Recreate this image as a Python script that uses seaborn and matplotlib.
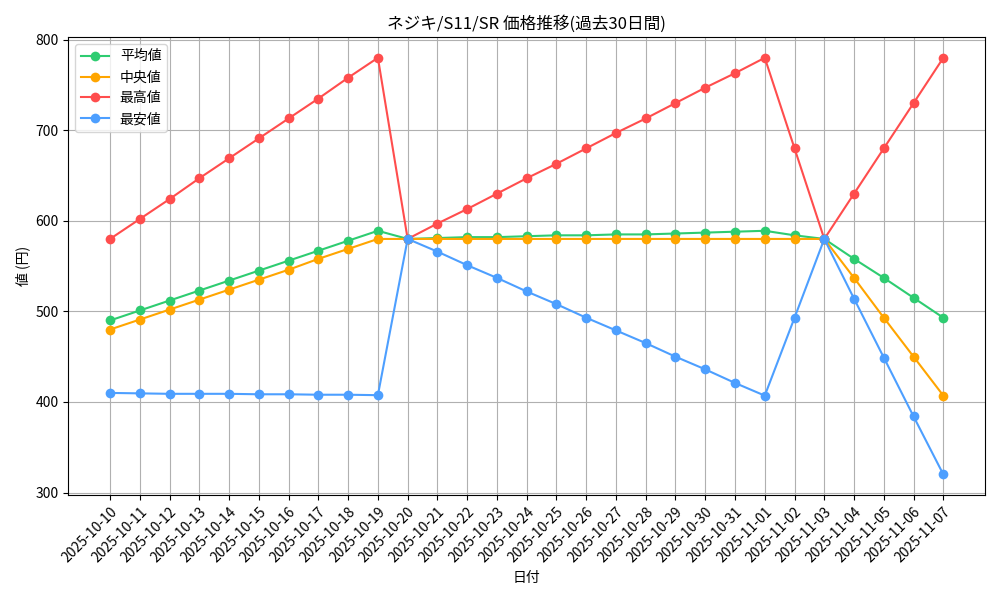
import matplotlib
matplotlib.use("Agg")
import matplotlib.pyplot as plt
import seaborn as sns
import pandas as pd

dates = pd.date_range("2025-10-10", "2025-11-07").strftime("%Y-%m-%d").tolist()
mean_vals = [490, 501, 512, 523, 534, 545, 556, 567, 578, 589, 580, 581, 582, 582, 583,
             584, 584, 585, 585, 586, 587, 588, 589, 584, 580, 558, 537, 515, 493]
median_vals = [480, 491, 502, 513, 524, 535, 546, 558, 569, 580, 580, 580, 580, 580, 580,
               580, 580, 580, 580, 580, 580, 580, 580, 580, 580, 537, 493, 450, 407]
max_vals = [580, 602, 624, 647, 669, 691, 713, 735, 758, 780, 580, 597, 613, 630, 647,
            663, 680, 697, 713, 730, 747, 763, 780, 680, 580, 630, 680, 730, 780]
min_vals = [410, 409.5, 409, 409, 409, 408.5, 408.5, 408, 408, 407.5, 580, 566, 551, 537, 522,
            508, 493, 479, 465, 450, 436, 421, 407, 493, 580, 514, 449, 384, 320]

plt.rcParams['font.family'] = ['Noto Sans CJK JP', 'DejaVu Sans']

series = [("平均値", mean_vals, "#2ecc71"), ("中央値", median_vals, "#ffa500"),
          ("最高値", max_vals, "#ff4d4d"), ("最安値", min_vals, "#4d9fff")]

fig, ax = plt.subplots(figsize=(10, 6), dpi=100)
for label, vals, color in series:
    sns.lineplot(x=dates, y=vals, ax=ax, marker="o", markersize=7, markeredgewidth=0,
                 color=color, label=label, linewidth=1.5)
ax.set_title("ネジキ/S11/SR 価格推移(過去30日間)")
ax.set_xlabel("日付")
ax.set_ylabel("値 (円)")
ax.grid(True)
ax.legend(loc="upper left")
plt.setp(ax.get_xticklabels(), rotation=45, ha="right", rotation_mode="anchor")
fig.tight_layout()
fig.savefig("out.png")
